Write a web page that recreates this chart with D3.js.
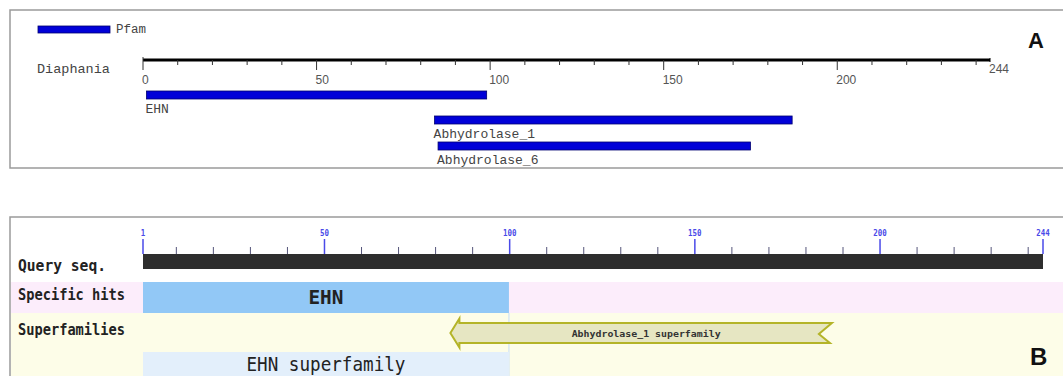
<!DOCTYPE html>
<html><head><meta charset="utf-8">
<script src="https://d3js.org/d3.v7.min.js"></script>
<style>body{margin:0;background:#fff}svg{display:block}</style>
</head><body>
<svg id="c" width="1063" height="376"></svg>
<script>
// ---- Panel A data (Pfam) ----
const seqLength = 244;
const pfamNames = ["EHN", "Abhydrolase_1", "Abhydrolase_6"];
const pfamStarts = [1, 84, 85];
const pfamEnds = [99, 187, 175];
const aMajorTicks = [0, 50, 100, 150, 200];
const aMinorTicks = d3.range(10, 244, 10);

// ---- Panel B data (CDD) ----
const bMajorTicks = [1, 50, 100, 150, 200, 244];
const bMinorTicks = d3.range(10, 244, 10);
const rowLabels = ["Query seq.", "Specific hits", "Superfamilies"];
const specificNames = ["EHN"];
const specificStarts = [1];
const specificEnds = [99];
const superNames = ["EHN superfamily", "Abhydrolase_1 superfamily"];
const superStarts = [1, 84];
const superEnds = [99, 187];

const svg = d3.select("#c");

// ================= Panel A =================
const xA = d3.scaleLinear().domain([0, seqLength]).range([143, 990]);
svg.append("rect").attr("x", 10).attr("y", 10).attr("width", 1070).attr("height", 158)
  .attr("fill", "#fff").attr("stroke", "#9a9a9a").attr("stroke-width", 1.5);

// legend
svg.append("rect").attr("x", 38).attr("y", 26).attr("width", 72).attr("height", 7)
  .attr("fill", "#0000d8").attr("stroke", "#000070").attr("stroke-width", 0.8);
svg.append("text").attr("x", 116).attr("y", 33).text("Pfam")
  .attr("font-family", "Liberation Mono").attr("font-size", 12.5).attr("fill", "#444");
svg.append("text").attr("x", 37).attr("y", 73).text("Diaphania")
  .attr("font-family", "Liberation Mono").attr("font-size", 13.5).attr("fill", "#444");

// ruler
const gA = svg.append("g");
gA.append("line").attr("x1", xA(0)).attr("x2", xA(seqLength)).attr("y1", 60).attr("y2", 60)
  .attr("stroke", "#000").attr("stroke-width", 3);
gA.selectAll("line.mi").data(aMinorTicks.filter(d => !aMajorTicks.includes(d))).join("line")
  .attr("x1", d => xA(d)).attr("x2", d => xA(d)).attr("y1", 60).attr("y2", 65)
  .attr("stroke", "#333").attr("stroke-width", 1);
gA.selectAll("line.ma").data(aMajorTicks).join("line")
  .attr("x1", d => xA(d)).attr("x2", d => xA(d)).attr("y1", d => d === 0 ? 57 : 60).attr("y2", 70)
  .attr("stroke", "#333").attr("stroke-width", 1);
gA.append("line").attr("x1", xA(seqLength)).attr("x2", xA(seqLength)).attr("y1", 58).attr("y2", 62)
  .attr("stroke", "#000").attr("stroke-width", 1);
gA.selectAll("text.tl").data(aMajorTicks).join("text")
  .attr("x", d => xA(d) - 1).attr("y", 84).text(d => d)
  .attr("font-family", "Liberation Sans").attr("font-size", 12).attr("fill", "#555");
gA.append("text").attr("x", xA(seqLength) - 1).attr("y", 73).text(seqLength)
  .attr("font-family", "Liberation Sans").attr("font-size", 12).attr("fill", "#555");

// domain bars
const barY = [91, 116, 142];
pfamNames.forEach((n, i) => {
  svg.append("rect").attr("x", xA(pfamStarts[i])).attr("y", barY[i])
    .attr("width", xA(pfamEnds[i]) - xA(pfamStarts[i])).attr("height", 8)
    .attr("fill", "#0000d8").attr("stroke", "#000070").attr("stroke-width", 0.8);
  svg.append("text").attr("x", xA(pfamStarts[i]) - 1).attr("y", barY[i] + 22).text(n)
    .attr("font-family", "Liberation Mono").attr("font-size", 13).attr("fill", "#444");
});
svg.append("text").attr("x", 1028).attr("y", 48).text("A")
  .attr("font-family", "Liberation Sans").attr("font-weight", "bold").attr("font-size", 22).attr("fill", "#111");

// ================= Panel B =================
const xB = d3.scaleLinear().domain([1, seqLength]).range([143, 1043]);
svg.append("rect").attr("x", 10).attr("y", 217).attr("width", 1070).attr("height", 200)
  .attr("fill", "#fff").attr("stroke", "#9a9a9a").attr("stroke-width", 1.5);
// row backgrounds
svg.append("rect").attr("x", 11).attr("y", 282).attr("width", 1060).attr("height", 31).attr("fill", "#fcedfb");
svg.append("rect").attr("x", 11).attr("y", 313).attr("width", 1060).attr("height", 70).attr("fill", "#fdfde8");

// ruler
const gB = svg.append("g");
gB.append("rect").attr("x", xB(1)).attr("y", 254).attr("width", xB(seqLength) - xB(1)).attr("height", 15)
  .attr("fill", "#2e2e2e");
gB.selectAll("line.mi").data(bMinorTicks.filter(d => !bMajorTicks.includes(d))).join("line")
  .attr("x1", d => xB(d)).attr("x2", d => xB(d)).attr("y1", 247).attr("y2", 254)
  .attr("stroke", "#55557a").attr("stroke-width", 1);
gB.selectAll("line.ma").data(bMajorTicks).join("line")
  .attr("x1", d => xB(d)).attr("x2", d => xB(d)).attr("y1", 239).attr("y2", 254)
  .attr("stroke", "#4a4ae8").attr("stroke-width", 1.5);
gB.selectAll("text.tl").data(bMajorTicks).join("text")
  .attr("x", d => xB(d)).attr("y", 236).attr("text-anchor", "middle").text(d => d)
  .attr("font-family", "DejaVu Sans Mono").attr("font-weight", "bold").attr("font-size", 9.5)
  .attr("fill", "#4a4ae8")
  .attr("textLength", d => String(d).length * 4.5).attr("lengthAdjust", "spacingAndGlyphs");

// row labels
const labY = [271, 300, 335];
const labW = [88, 107, 107];
rowLabels.forEach((t, i) => {
  svg.append("text").attr("x", 18).attr("y", labY[i]).text(t)
    .attr("font-family", "DejaVu Sans Mono").attr("font-weight", "bold").attr("font-size", 16)
    .attr("fill", "#222").attr("textLength", labW[i]).attr("lengthAdjust", "spacingAndGlyphs");
});

// specific hits
specificNames.forEach((n, i) => {
  const x0 = xB(specificStarts[i]), x1 = xB(specificEnds[i] + 0.8);
  svg.append("rect").attr("x", x0).attr("y", 282).attr("width", x1 - x0).attr("height", 31).attr("fill", "#92c8f6");
  svg.append("text").attr("x", (x0 + x1) / 2).attr("y", 304).attr("text-anchor", "middle").text(n)
    .attr("font-family", "DejaVu Sans Mono").attr("font-weight", "bold").attr("font-size", 19)
    .attr("fill", "#222").attr("textLength", 35).attr("lengthAdjust", "spacingAndGlyphs");
});

// superfamilies: EHN superfamily (box)
{
  const x0 = xB(superStarts[0]), x1 = xB(superEnds[0] + 0.8);
  svg.append("line").attr("x1", x1).attr("x2", x1).attr("y1", 313).attr("y2", 380)
    .attr("stroke", "#cfe2f5").attr("stroke-width", 1.2);
  svg.append("rect").attr("x", x0).attr("y", 352).attr("width", x1 - x0).attr("height", 30).attr("fill", "#e3effb");
  svg.append("text").attr("x", (x0 + x1) / 2).attr("y", 371).attr("text-anchor", "middle").text(superNames[0])
    .attr("font-family", "DejaVu Sans Mono").attr("font-size", 19)
    .attr("fill", "#222").attr("textLength", 159).attr("lengthAdjust", "spacingAndGlyphs");
}
// Abhydrolase_1 superfamily (arrow pointing left, truncated right end)
{
  const x0 = xB(superStarts[1]), x1 = xB(superEnds[1]);
  const yc = 333, h = 10, hh = 14.5, head = 9;
  const pts = [
    [x0, yc], [x0 + head, yc - hh], [x0 + head, yc - h], [x1, yc - h],
    [x1 - 13, yc + 1], [x1 - 2, yc + h], [x0 + head, yc + h], [x0 + head, yc + hh]
  ];
  svg.append("path").attr("d", d3.line()(pts) + "Z")
    .attr("fill", "#e6e6c2").attr("stroke", "#b4b428").attr("stroke-width", 2).attr("stroke-linejoin", "miter");
  svg.append("text").attr("x", (x0 + x1) / 2 + 5).attr("y", 337).attr("text-anchor", "middle").text(superNames[1])
    .attr("font-family", "DejaVu Sans Mono").attr("font-weight", "bold").attr("font-size", 9)
    .attr("fill", "#333").attr("textLength", 149).attr("lengthAdjust", "spacingAndGlyphs");
}
svg.append("text").attr("x", 1030).attr("y", 365).text("B")
  .attr("font-family", "Liberation Sans").attr("font-weight", "bold").attr("font-size", 24).attr("fill", "#111");
</script>
</body></html>
